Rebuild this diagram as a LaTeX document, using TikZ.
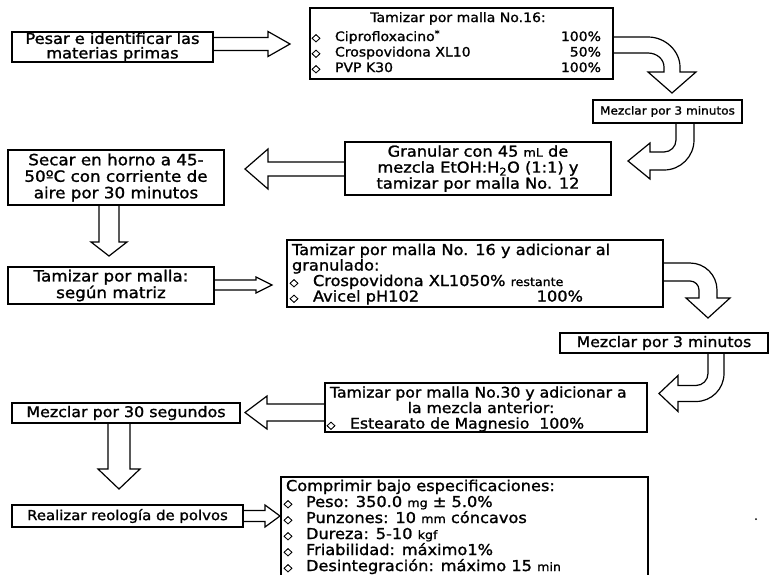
\documentclass[tikz,border=0pt]{standalone}
\usepackage{fontspec}
\setmainfont{DejaVu Sans}[FakeStretch=1.08, FakeBold=1.3]
\usetikzlibrary{calc}
\newcommand\fsz[2]{\fontsize{#1}{#2}\selectfont}
\newcommand\unitsm[1]{\scalebox{0.78}{#1}}
\begin{document}
\begin{tikzpicture}[x=1pt,y=-1pt,
  box/.style={draw, line width=1.2pt, anchor=north west, inner sep=0pt, outer sep=0pt},
  txt/.style={inner sep=0pt, outer sep=0pt},
  mtxt/.style={txt, align=center},
  blk/.style={draw, line width=1.2pt, line join=miter},
  bul/.style={txt, anchor=base, font=\fsz{10.5}{10}}]
\fill[white] (0,0) rectangle (776,574);
\useasboundingbox (0,0) rectangle (776,574);

% ---------- boxes ----------
\node[box, minimum width=201pt, minimum height=30pt] (A) at (12,32) {};
\node[box, minimum width=303pt, minimum height=71pt] (B) at (310,8) {};
\node[box, minimum width=149pt, minimum height=23pt] (C) at (593,100) {};
\node[box, minimum width=266pt, minimum height=53pt] (D) at (345,142) {};
\node[box, minimum width=216pt, minimum height=55pt] (E) at (8,150) {};
\node[box, minimum width=206pt, minimum height=37pt] (F) at (8,267) {};
\node[box, minimum width=376pt, minimum height=67pt] (G) at (287,240) {};
\node[box, minimum width=208pt, minimum height=20pt] (H) at (560,333) {};
\node[box, minimum width=322pt, minimum height=49pt] (I) at (325,383) {};
\node[box, minimum width=228pt, minimum height=20pt] (J) at (12,403) {};
\node[box, minimum width=231pt, minimum height=22pt] (K) at (12,505) {};
\node[box, minimum width=367pt, minimum height=103pt] (L) at (281,477) {};

% ---------- texts ----------
\node[mtxt, font=\fsz{15}{14.5}] (At) at (A.center) {Pesar e identificar las\\materias primas};

\node[txt, anchor=base, font=\fsz{13}{13}] (Bt) at (458,22) {Tamizar por malla No.16:};
\node[bul] (Bb1) at (316,41) {◇};
\node[bul] (Bb2) at (316,56.5) {◇};
\node[bul] (Bb3) at (316,72) {◇};
\node[txt, anchor=base west, font=\fsz{13}{13}] (Bn1) at (335,41) {Ciprofloxacino\textsuperscript{*}};
\node[txt, anchor=base west, font=\fsz{13}{13}] (Bn2) at (335,56.5) {Crospovidona XL10};
\node[txt, anchor=base west, font=\fsz{13}{13}] (Bn3) at (335,72) {PVP K30};
\node[txt, anchor=base east, font=\fsz{13}{13}] (Bp1) at (601,41) {100\%};
\node[txt, anchor=base east, font=\fsz{13}{13}] (Bp2) at (601,56.5) {50\%};
\node[txt, anchor=base east, font=\fsz{13}{13}] (Bp3) at (601,72) {100\%};

\node[txt, font=\fsz{11.2}{12}] (Ct) at (C.center) {Mezclar por 3 minutos};

\node[mtxt, font=\fsz{15}{16}] (Dt) at (D.center) {Granular con 45 \unitsm{mL} de\\mezcla EtOH:H\textsubscript{2}O (1:1) y\\tamizar por malla No. 12};

\node[mtxt, font=\fsz{15.5}{16.5}] (Et) at (E.center) {Secar en horno a 45-\\50ºC con corriente de\\aire por 30 minutos};

\node[mtxt, font=\fsz{15.5}{15}] (Ft) at (F.center) {Tamizar por malla:\\según matriz};

\node[txt, anchor=base west, font=\fsz{15}{15}] (Gt1) at (292,255) {Tamizar por malla No. 16 y adicionar al};
\node[txt, anchor=base west, font=\fsz{15}{15}] (Gt2) at (292,270.5) {granulado:};
\node[bul] (Gb1) at (294,286) {◇};
\node[bul] (Gb2) at (294,301.5) {◇};
\node[txt, anchor=base west, font=\fsz{15}{15}] (Gn1) at (313,286) {Crospovidona XL1050\% \unitsm{restante}};
\node[txt, anchor=base west, font=\fsz{15}{15}] (Gn2) at (313,301.5) {Avicel pH102};
\node[txt, anchor=base east, font=\fsz{15}{15}] (Gp2) at (583,301.5) {100\%};

\node[txt, font=\fsz{14.5}{15}] (Ht) at (H.center) {Mezclar por 3 minutos};

\node[txt, anchor=base west, font=\fsz{14.5}{15}] (It1) at (330,397.5) {Tamizar por malla No.30 y adicionar a};
\node[txt, anchor=base, font=\fsz{14.5}{15}] (It2) at (481,413) {la mezcla anterior:};
\node[bul] (Ib1) at (331,428.5) {◇};
\node[txt, anchor=base west, font=\fsz{14.5}{15}] (In1) at (350,428.5) {Estearato de Magnesio\ \ 100\%};

\node[txt, font=\fsz{14.7}{15}] (Jt) at (J.center) {Mezclar por 30 segundos};

\node[txt, font=\fsz{13.8}{15}] (Kt) at (K.center) {Realizar reología de polvos};

\node[txt, anchor=base west, font=\fsz{15}{15}] (Lt) at (286,491) {Comprimir bajo especificaciones:};
\foreach \yy/\nm in {507/1,523/2,539/3,555/4,571/5}
  \node[bul] (Lb\nm) at (288,\yy) {◇};
\node[txt, anchor=base west, font=\fsz{15}{15}] (Ln1) at (306,507) {Peso: 350.0 \unitsm{mg} ± 5.0\%};
\node[txt, anchor=base west, font=\fsz{15}{15}] (Ln2) at (306,523) {Punzones: 10 \unitsm{mm} cóncavos};
\node[txt, anchor=base west, font=\fsz{15}{15}] (Ln3) at (306,539) {Dureza: 5-10 \unitsm{kgf}};
\node[txt, anchor=base west, font=\fsz{15}{15}] (Ln4) at (306,555) {Friabilidad: máximo1\%};
\node[txt, anchor=base west, font=\fsz{15}{15}] (Ln5) at (306,571) {Desintegración: máximo 15 \unitsm{min}};

% ---------- block arrows ----------
% A -> B
\draw[blk] (A.east |- 0,37.5) -- (268,37.5) -- (268,31.5) -- (290,44) -- (268,56.5) -- (268,50.5) -- (A.east |- 0,50.5);
% B -> C (bent down)
\draw[blk] (B.east |- 0,37) -- (648,37) .. controls (665.7,37) and (680,51.3) .. (680,67)
  -- (680,72) -- (696,72) -- (672,93) -- (648,72) -- (664,72) -- (664,67)
  .. controls (664,59.2) and (656.8,53) .. (648,53) -- (B.east |- 0,53);
% C -> D (bent left)
\draw[blk] (C.south -| 694,0) -- (694,140) .. controls (694,156.6) and (680.6,170) .. (664,170)
  -- (650,170) -- (650,179) -- (628,161) -- (650,143) -- (650,152) -- (664,152)
  .. controls (670.6,152) and (676,146.6) .. (676,140) -- (C.south -| 676,0);
% D -> E
\draw[blk] (D.west |- 0,162) -- (268,162) -- (268,149) -- (245,169) -- (268,189) -- (268,176) -- (D.west |- 0,176);
% E -> F
\draw[blk] (E.south -| 99,0) -- (99,242) -- (91,242) -- (109,256) -- (127,242) -- (119,242) -- (E.south -| 119,0);
% F -> G
\draw[blk] (F.east |- 0,280) -- (256,280) -- (256,277) -- (272,285) -- (256,293) -- (256,290) -- (F.east |- 0,290);
% G -> H (bent down)
\draw[blk] (G.east |- 0,263) -- (690,263) .. controls (704.9,263) and (717,275.1) .. (717,290)
  -- (717,298) -- (730,298) -- (708,318) -- (686,298) -- (699,298) -- (699,290)
  .. controls (699,285) and (695,281) .. (690,281) -- (G.east |- 0,281);
% H -> I (bent left)
\draw[blk] (H.south -| 724,0) -- (724,373.5) .. controls (724,389) and (711.5,401.5) .. (696,401.5)
  -- (678,401.5) -- (678,411.5) -- (659,393.5) -- (678,375.5) -- (678,385.5) -- (696,385.5)
  .. controls (702.6,385.5) and (708,380.1) .. (708,373.5) -- (H.south -| 708,0);
% I -> J
\draw[blk] (I.west |- 0,404) -- (267,404) -- (267,396) -- (245,412.5) -- (267,429) -- (267,421) -- (I.west |- 0,421);
% J -> K
\draw[blk] (J.south -| 108,0) -- (108,469) -- (98,469) -- (119,489) -- (140,469) -- (130,469) -- (J.south -| 130,0);
% K -> L
\draw[blk] (K.east |- 0,510.5) -- (265,510.5) -- (265,505) -- (280,516) -- (265,527) -- (265,521.5) -- (K.east |- 0,521.5);

% speck beside the last box
\fill (756,519) circle (1pt);
\end{tikzpicture}
\end{document}
